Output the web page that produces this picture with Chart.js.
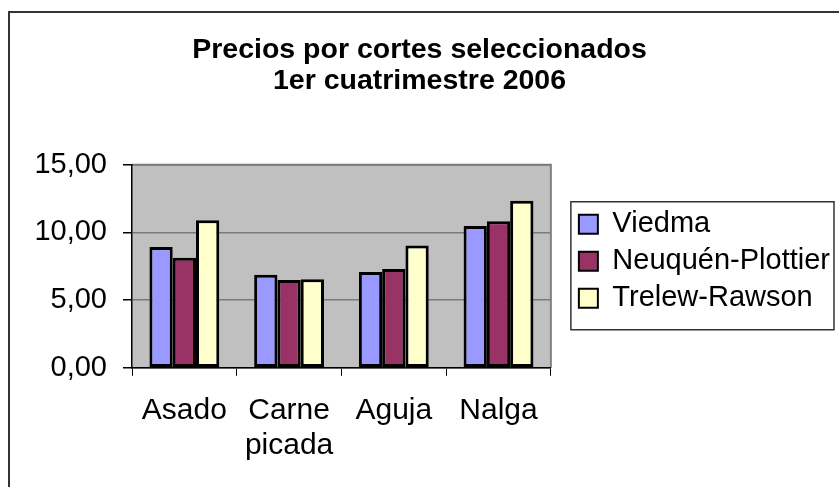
<!DOCTYPE html>
<html>
<head>
<meta charset="utf-8">
<script src="https://cdn.jsdelivr.net/npm/chart.js@4/dist/chart.umd.min.js"></script>
<style>
  html, body { margin: 0; padding: 0; background: #fff; }
  #wrap { width: 839px; height: 487px; }
</style>
</head>
<body>
<div id="wrap"><canvas id="c" width="839" height="487"></canvas></div>
<script>
const titleLines = ['Precios por cortes seleccionados', '1er cuatrimestre 2006'];
const categories = [['Asado'], ['Carne', 'picada'], ['Aguja'], ['Nalga']];
const seriesNames = ['Viedma', 'Neuquén-Plottier', 'Trelew-Rawson'];
const viedma = [8.93, 6.87, 7.07, 10.47];
const neuquen = [8.13, 6.49, 7.29, 10.82];
const trelew = [10.90, 6.54, 9.03, 12.34];
const yTicks = [0, 5, 10, 15];
const yTickLabels = ['0,00', '5,00', '10,00', '15,00'];
const colors = ['#9999FF', '#993366', '#FFFFCC'];

const FONT = "'Liberation Sans', Arial, sans-serif";

const framePlugin = {
  id: 'frame',
  afterLayout(chart) {
    const lg = chart.legend;
    if (lg) { lg.left += 20; lg.right += 20; lg.top -= 5; lg.bottom -= 5; }
  },
  beforeDraw(chart) {
    const ctx = chart.ctx, a = chart.chartArea;
    ctx.save();
    ctx.fillStyle = '#fff';
    ctx.fillRect(0, 0, chart.width, chart.height);
    ctx.strokeStyle = '#333';
    ctx.lineWidth = 2;
    ctx.strokeRect(9, 12, chart.width + 20, chart.height + 20);
    ctx.fillStyle = '#C0C0C0';
    ctx.fillRect(a.left, a.top, a.right - a.left, a.bottom - a.top);
    ctx.strokeStyle = '#808080';
    ctx.lineWidth = 2;
    ctx.beginPath();
    ctx.moveTo(a.left, a.top);
    ctx.lineTo(a.right, a.top);
    ctx.lineTo(a.right, a.bottom);
    ctx.stroke();
    ctx.restore();
  },
  afterDraw(chart) {
    const lg = chart.legend;
    if (!lg || !lg.legendHitBoxes || !lg.legendHitBoxes.length) return;
    const hb = lg.legendHitBoxes;
    let minY = Infinity, maxY = -Infinity;
    hb.forEach(h => { minY = Math.min(minY, h.top); maxY = Math.max(maxY, h.top + h.height); });
    const ctx = chart.ctx;
    const left = chart.chartArea.right + 20;
    ctx.save();
    ctx.strokeStyle = '#333';
    ctx.lineWidth = 1.5;
    ctx.strokeRect(left, minY - 8, 834 - left, (maxY + 17) - (minY - 8));
    ctx.restore();
  }
};

const ds = [viedma, neuquen, trelew].map((d, i) => ({
  label: seriesNames[i],
  data: d,
  backgroundColor: colors[i],
  borderColor: '#000',
  borderWidth: 3,
  borderSkipped: false,
  categoryPercentage: 0.667,
  barPercentage: 1.0
}));

new Chart(document.getElementById('c'), {
  type: 'bar',
  data: { labels: categories, datasets: ds },
  plugins: [framePlugin],
  options: {
    responsive: false,
    animation: false,
    devicePixelRatio: 1,
    layout: { padding: { left: 19, right: 19, top: 0, bottom: 7 } },
    plugins: {
      title: {
        display: true,
        text: titleLines,
        color: '#000',
        font: { family: FONT, size: 28.5, weight: 'bold', lineHeight: 1.1 },
        padding: { top: 34, bottom: 68 }
      },
      legend: {
        display: true,
        position: 'right',
        fullSize: false,
        align: 'center',
        maxWidth: 400,
        labels: {
          color: '#000',
          font: { family: FONT, size: 29 },
          boxWidth: 19,
          boxHeight: 19,
          padding: 8,
          generateLabels(chart) {
            return chart.data.datasets.map((d, i) => ({
              text: d.label,
              fillStyle: d.backgroundColor,
              strokeStyle: '#000',
              lineWidth: 2,
              datasetIndex: i,
              hidden: false
            }));
          }
        }
      },
      tooltip: { enabled: false }
    },
    scales: {
      x: {
        grid: {
          display: true,
          drawOnChartArea: false,
          drawTicks: true,
          tickLength: 8,
          tickColor: '#000',
          offset: true
        },
        border: { color: '#000', width: 1.5 },
        ticks: {
          color: '#000',
          font: { family: FONT, size: 30, lineHeight: 1.17 },
          padding: 17,
          maxRotation: 0,
          autoSkip: false
        }
      },
      y: {
        min: 0,
        max: 15,
        afterBuildTicks(scale) { scale.ticks = yTicks.map(v => ({ value: v })); },
        afterFit(scale) { scale.width = 113; },
        grid: {
          color: '#7a7a7a',
          lineWidth: 1.5,
          tickColor: '#000',
          tickLength: 9,
          drawTicks: true
        },
        border: { color: '#000', width: 1.5 },
        ticks: {
          color: '#000',
          font: { family: FONT, size: 29 },
          padding: 16,
          callback(v) { const i = yTicks.indexOf(v); return i >= 0 ? yTickLabels[i] : ''; }
        }
      }
    }
  }
});
</script>
</body>
</html>
